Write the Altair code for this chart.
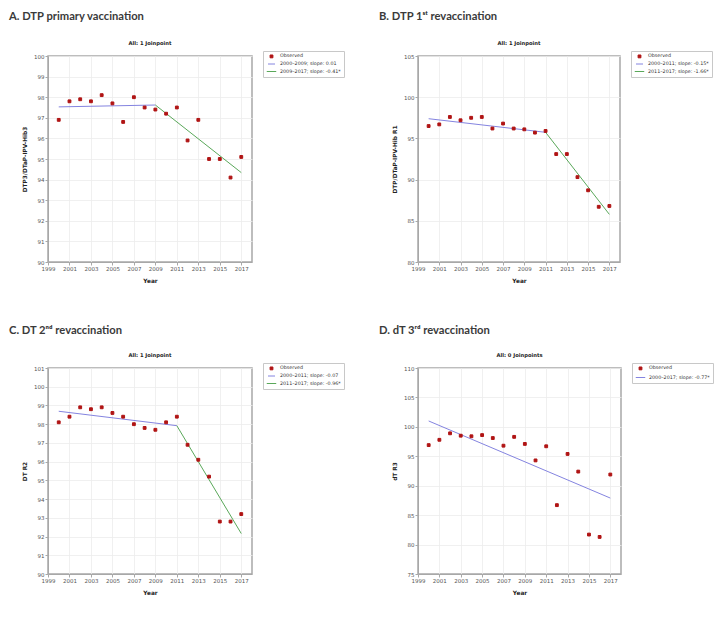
import altair as alt
import pandas as pd

years = list(range(2000, 2018))

# Observed coverage (%)
a_obs = [96.9, 97.8, 97.9, 97.8, 98.1, 97.7, 96.8, 98.0, 97.5, 97.4, 97.2, 97.5, 95.9, 96.9, 95.0, 95.0, 94.1, 95.1]
b_obs = [96.5, 96.7, 97.6, 97.2, 97.5, 97.6, 96.2, 96.8, 96.2, 96.1, 95.7, 95.9, 93.1, 93.1, 90.3, 88.7, 86.7, 86.8]
c_obs = [98.1, 98.4, 98.9, 98.8, 98.9, 98.6, 98.4, 98.0, 97.8, 97.7, 98.1, 98.4, 96.9, 96.1, 95.2, 92.8, 92.8, 93.2]
d_obs = [96.9, 97.8, 98.9, 98.5, 98.4, 98.6, 98.1, 96.8, 98.3, 97.1, 94.3, 96.7, 86.7, 95.4, 92.4, 81.7, 81.3, 91.9]

# Joinpoint fitted lines (joinpoint years and modelled values)
a_fit_years = [2000, 2009, 2017]
a_fit_vals = [97.53, 97.62, 94.34]
b_fit_years = [2000, 2011, 2017]
b_fit_vals = [97.39, 95.74, 85.78]
c_fit_years = [2000, 2011, 2017]
c_fit_vals = [98.69, 97.92, 92.16]
d_fit_years = [2000, 2017]
d_fit_vals = [101.0, 87.9]

a_segs = ["2000–2009; slope: 0.01", "2009–2017; slope: -0.41*"]
b_segs = ["2000–2011; slope: -0.15*", "2011–2017; slope: -1.66*"]
c_segs = ["2000–2011; slope: -0.07", "2011–2017; slope: -0.96*"]
d_segs = ["2000–2017; slope: -0.77*"]

titles = ["A. DTP primary vaccination", "B. DTP 1ˢᵗ revaccination",
          "C. DT 2ⁿᵈ revaccination", "D. dT 3ʳᵈ revaccination"]
title_dy = [-39, -39, -37, -37]
subtitles = ["All: 1 Joinpoint", "All: 1 Joinpoint", "All: 1 Joinpoint", "All: 0 Joinpoints"]
ytitles = ["DTP3/DTaP-IPV-Hib3", "DTP/DTaP-IPV-Hib R1", "DT R2", "dT R3"]
ydomains = [[90, 100], [80, 105], [90, 101], [75, 110]]
ysteps = [1, 5, 1, 5]
xticks = list(range(1999, 2018, 2))

RED = "#b01414"
BLUE = "#8484e0"
GREEN = "#5aa85a"
FONT = "DejaVu Sans"


def panel(idx, obs, fit_years, fit_vals, segs, width, height):
    labels = ["Observed"] + segs
    colors = [RED, BLUE, GREEN][: len(labels)]
    shapes = ["square"] + ["stroke"] * len(segs)
    sizes = [8] + [90] * len(segs)

    obs_df = pd.DataFrame({"year": years, "value": obs, "series": "Observed"})
    lo, hi = ydomains[idx]

    x = alt.X("year:Q",
              scale=alt.Scale(domain=[1999, 2018], nice=False, zero=False),
              axis=alt.Axis(values=xticks, tickCount=40, format="d", title="Year"))
    y = alt.Y("value:Q",
              scale=alt.Scale(domain=[lo, hi], nice=False, zero=False),
              axis=alt.Axis(values=list(range(lo, hi + 1, ysteps[idx])), tickCount=40,
                            format="d", title=ytitles[idx]))

    leg = alt.Legend(title=None, orient="none", legendX=width + 11, legendY=-5,
                     strokeColor="#c8c8c8", padding=3, labelFontSize=4.8,
                     labelFont=FONT, labelColor="#333", rowPadding=0,
                     symbolStrokeWidth=1, labelOffset=3, labelLimit=200)

    points = alt.Chart(obs_df).mark_point(filled=True, opacity=1, strokeWidth=1).encode(
        x=x, y=y,
        color=alt.Color("series:N", scale=alt.Scale(domain=labels, range=colors), legend=leg),
        stroke=alt.Stroke("series:N", scale=alt.Scale(domain=labels, range=colors), legend=leg),
        shape=alt.Shape("series:N", scale=alt.Scale(domain=labels, range=shapes), legend=leg),
        size=alt.Size("series:N", scale=alt.Scale(domain=labels, range=sizes), legend=leg),
    )

    layers = []
    for k in range(len(fit_years) - 1):
        seg_df = pd.DataFrame({"year": fit_years[k:k + 2], "value": fit_vals[k:k + 2]})
        layers.append(alt.Chart(seg_df).mark_line(color=[BLUE, GREEN][k], strokeWidth=1).encode(
            x=alt.X("year:Q"), y=alt.Y("value:Q")))

    title = alt.Chart(pd.DataFrame({"t": [titles[idx]]})).mark_text(
        align="left", baseline="middle", font="Lato", fontWeight="bold",
        fontSize=11.2, color="#3a3a3a").encode(
        text="t:N", x=alt.value(-39), y=alt.value(title_dy[idx]))
    sub = alt.Chart(pd.DataFrame({"t": [subtitles[idx]]})).mark_text(
        align="center", baseline="middle", font=FONT, fontWeight="bold",
        fontSize=5.2, color="#222").encode(
        text="t:N", x=alt.value(width / 2), y=alt.value(-13))

    return alt.layer(*layers, points, title, sub).properties(width=width, height=height)


pA = panel(0, a_obs, a_fit_years, a_fit_vals, a_segs, 204, 206)
pB = panel(1, b_obs, b_fit_years, b_fit_vals, b_segs, 202, 206)
pC = panel(2, c_obs, c_fit_years, c_fit_vals, c_segs, 204, 206)
pD = panel(3, d_obs, d_fit_years, d_fit_vals, d_segs, 203, 206)

ind = dict(x="independent", y="independent", color="independent",
           shape="independent", size="independent", stroke="independent")

chart = alt.concat(pA, pB, pC, pD, columns=2, spacing={"row": 106, "column": 166},
                   bounds="flush").resolve_scale(**ind).properties(
    padding={"left": 0, "top": 2, "right": 0, "bottom": 0}
).configure_view(
    stroke="#a8a8a8", strokeWidth=1.5
).configure_axis(
    labelFont=FONT, labelFontSize=5.5, labelColor="#555",
    titleFont=FONT, titleFontSize=5.8, titleFontWeight="bold", titleColor="#222",
    gridColor="#ececec", gridWidth=0.8, domainColor="#a8a8a8",
    tickColor="#a8a8a8", tickSize=3, labelPadding=1, labelOverlap=False,
    labelFlush=False
).configure_axisX(titlePadding=6).configure_axisY(titlePadding=6)

chart.save("out.html", embed_options={"renderer": "svg", "actions": False})
